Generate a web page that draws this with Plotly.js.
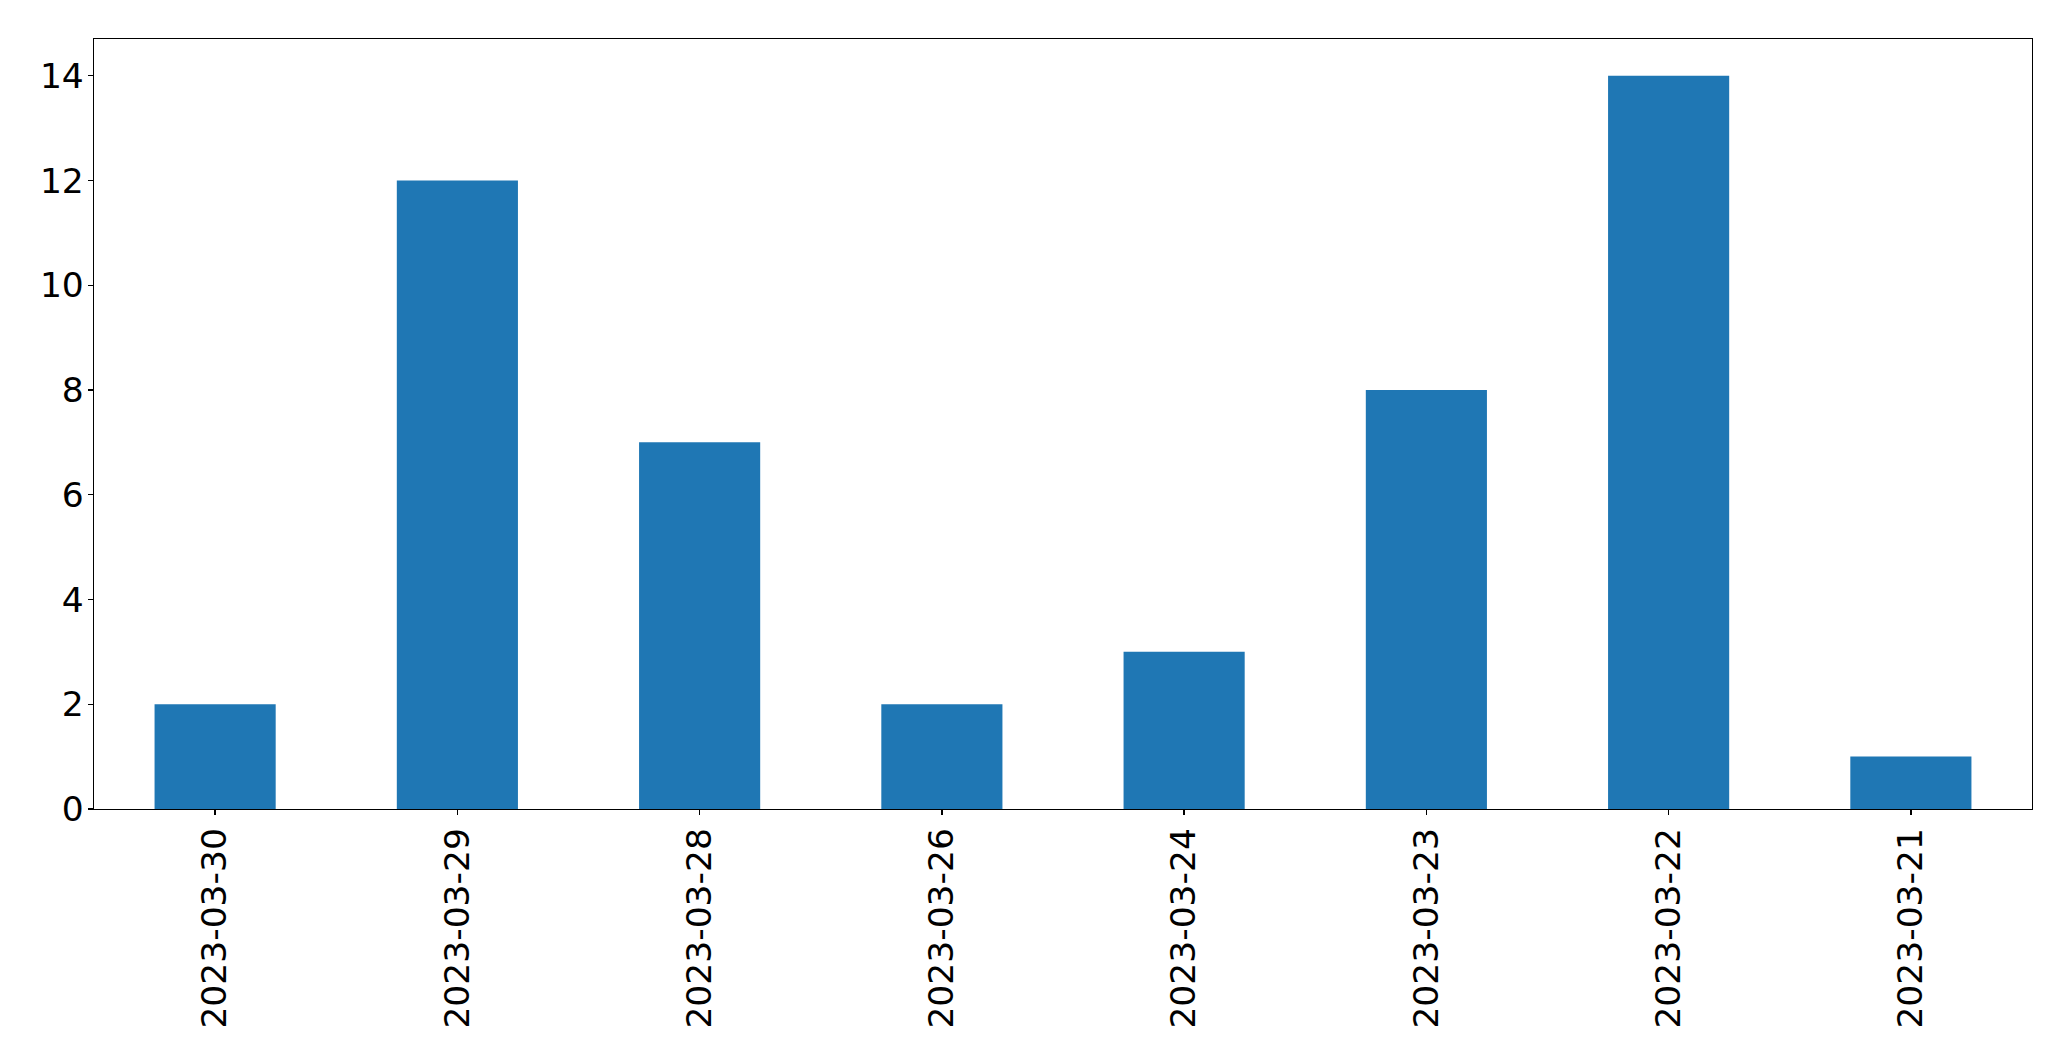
<!DOCTYPE html>
<html>
<head>
<meta charset="utf-8">
<script src="https://cdn.plot.ly/plotly-3.0.1.min.js"></script>
<style>html,body{margin:0;padding:0;background:#fff;}#chart{width:2071px;height:1061px;}</style>
</head>
<body>
<div id="chart"></div>
<script>
const categories = ["2023-03-30","2023-03-29","2023-03-28","2023-03-26","2023-03-24","2023-03-23","2023-03-22","2023-03-21"];
const values = [2, 12, 7, 2, 3, 8, 14, 1];
const yTicks = [0, 2, 4, 6, 8, 10, 12, 14];

const trace = {
  type: "bar",
  x: categories,
  y: values,
  width: 0.5,
  marker: {color: "#1f77b4", line: {width: 0}},
  hoverinfo: "x+y"
};

const axisCommon = {
  showline: true, linecolor: "#000", linewidth: 1.3, mirror: true,
  ticks: "outside", ticklen: 5, tickwidth: 1.3, tickcolor: "#000",
  showgrid: false, zeroline: false,
  tickfont: {family: "DejaVu Sans", size: 34.5, color: "#000"}
};

const layout = {
  width: 2071, height: 1061,
  margin: {l: 94, r: 39, t: 39, b: 252},
  paper_bgcolor: "#fff", plot_bgcolor: "#fff",
  showlegend: false,
  bargap: 0.5,
  xaxis: Object.assign({}, axisCommon, {
    type: "category", range: [-0.5, 7.5], tickangle: -90, ticklabelstandoff: -1
  }),
  yaxis: Object.assign({}, axisCommon, {
    range: [0, 14.7], tickmode: "array", tickvals: yTicks, ticktext: yTicks.map(String), ticklabelstandoff: -3
  })
};

Plotly.newPlot("chart", [trace], layout, {displayModeBar: false, staticPlot: true});
</script>
</body>
</html>
